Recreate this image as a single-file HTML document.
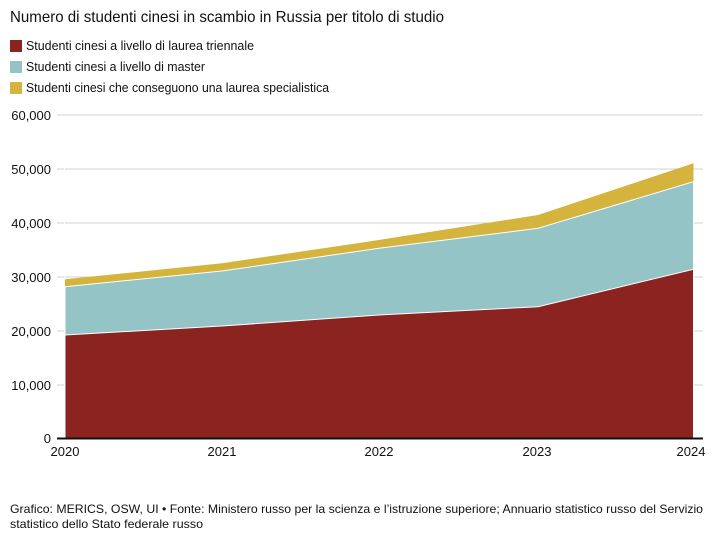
<!DOCTYPE html>
<html><head><meta charset="utf-8"><style>
html,body{margin:0;padding:0;background:#fff;}
svg{display:block;font-family:"Liberation Sans",sans-serif;}
</style></head><body>
<svg width="720" height="543" viewBox="0 0 720 543" xmlns="http://www.w3.org/2000/svg">
<rect width="720" height="543" fill="#fff"/>
<text x="10" y="22" font-size="16" fill="#111" textLength="434" lengthAdjust="spacingAndGlyphs">Numero di studenti cinesi in scambio in Russia per titolo di studio</text>
<rect x="10" y="40" width="12" height="12" fill="#8b2320"/>
<text x="26" y="50" font-size="13" fill="#111" textLength="228" lengthAdjust="spacingAndGlyphs">Studenti cinesi a livello di laurea triennale</text>
<rect x="10" y="61" width="12" height="12" fill="#95c4c6"/>
<text x="26" y="71" font-size="13" fill="#111" textLength="179" lengthAdjust="spacingAndGlyphs">Studenti cinesi a livello di master</text>
<rect x="10" y="82" width="12" height="12" fill="#d4b43c"/>
<text x="26" y="92" font-size="13" fill="#111" textLength="303" lengthAdjust="spacingAndGlyphs">Studenti cinesi che conseguono una laurea specialistica</text>
<g stroke="#d0d0d0" stroke-width="1">
<line x1="57" x2="703" y1="115" y2="115"/>
<line x1="57" x2="703" y1="169" y2="169"/>
<line x1="57" x2="703" y1="223" y2="223"/>
<line x1="57" x2="703" y1="277" y2="277"/>
<line x1="57" x2="703" y1="331" y2="331"/>
<line x1="57" x2="703" y1="385" y2="385"/>
</g>
<g font-size="13" fill="#111" text-anchor="end">
<text x="51" y="120">60,000</text>
<text x="51" y="174">50,000</text>
<text x="51" y="228">40,000</text>
<text x="51" y="282">30,000</text>
<text x="51" y="336">20,000</text>
<text x="51" y="390">10,000</text>
<text x="51" y="443">0</text>
</g>
<polygon fill="#d4b43c" points="65,279.3 222,263.3 379,240 538,215 693.5,163.3 693.5,438.7 65,438.7"/>
<polygon fill="#95c4c6" stroke="#fff" stroke-width="1" points="65,286.7 222,271 379,248.3 538,228.3 693.5,181.7 693.5,438.7 65,438.7"/>
<polygon fill="#8b2320" stroke="#fff" stroke-width="1" points="65,335 222,326 379,315 538,306.7 693.5,269.3 693.5,438.7 65,438.7"/>
<rect x="64" y="160" width="1" height="279" fill="#fff"/>
<line x1="57" x2="703" y1="438.5" y2="438.5" stroke="#111" stroke-width="2"/>
<g font-size="13" fill="#111" text-anchor="middle">
<text x="65" y="456">2020</text>
<text x="222" y="456">2021</text>
<text x="379" y="456">2022</text>
<text x="537" y="456">2023</text>
<text x="691" y="456">2024</text>
</g>
<text x="10" y="513" font-size="12" fill="#111" textLength="693" lengthAdjust="spacingAndGlyphs">Grafico: MERICS, OSW, UI • Fonte: Ministero russo per la scienza e l’istruzione superiore; Annuario statistico russo del Servizio</text>
<text x="10" y="528" font-size="12" fill="#111" textLength="193" lengthAdjust="spacingAndGlyphs">statistico dello Stato federale russo</text>
</svg>
</body></html>
